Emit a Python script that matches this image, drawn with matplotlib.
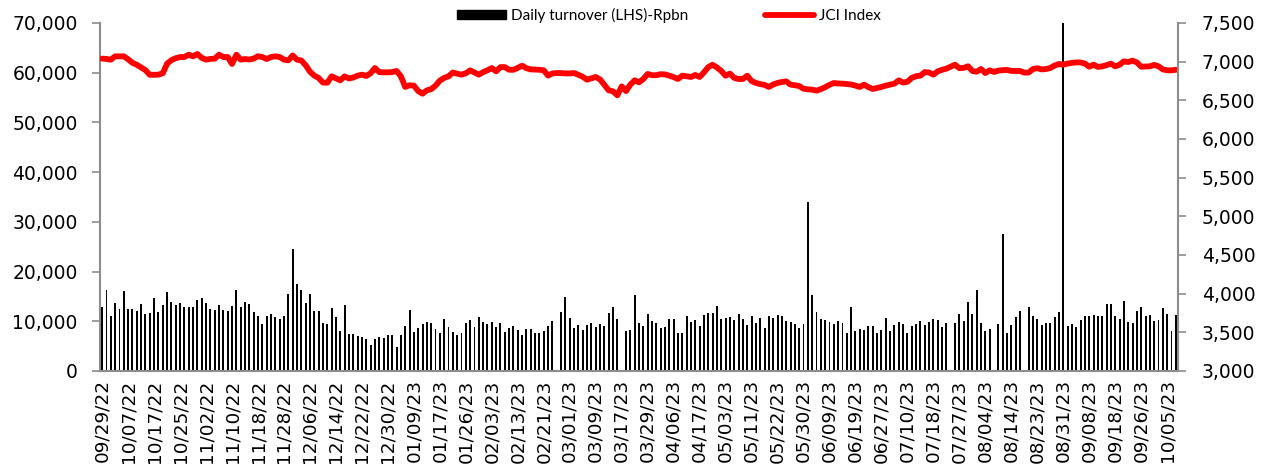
import numpy as np
import matplotlib
matplotlib.use("Agg")
import matplotlib.pyplot as plt
from matplotlib.patches import Patch
from matplotlib.lines import Line2D
from matplotlib.ticker import FuncFormatter, MultipleLocator

# Daily turnover in thousands of Rp bn (nan = no bar)
nan = np.nan
turnover_k = [
    12.9, 16.2, 11.0, 13.6, 12.5, 16.1, 12.4, 12.5, 12.0, 13.5,
    11.4, 11.6, 14.6, 11.8, 13.3, 15.9, 13.9, 13.3, 13.7, 12.9,
    12.9, 12.9, 14.3, 14.7, 13.7, 12.4, 12.3, 13.3, 12.3, 12.1,
    13.0, 16.2, 12.9, 13.9, 13.4, 11.9, 11.1, 9.4, 11.1, 11.5,
    10.9, 10.4,
    11.1, 15.5, 24.5, 17.5, 16.3, 13.7, 15.5, 12.1, 12.1, 9.6,
    9.4, 12.7, 10.9, 8.1, 13.3, 7.5, 7.4, 7.0, 6.9, 6.5,
    5.3, 6.4, 6.8, 6.6, 7.3, 7.3, 4.9, 7.2, 9.0, 12.3,
    7.9, 8.6, 9.5, 9.8, 9.6, 8.4, 7.6, 10.4, 8.8, 7.9,
    7.3,
    7.6, 9.7, 10.3, 8.9, 10.8, 9.9, 9.5, 9.9, 8.8, 9.6,
    7.9, 8.6, 9.0, 8.3, 7.3, 8.5, 8.4, 7.7, 7.7, 8.0,
    9.0, 10.1, nan, 11.8, 14.8, 10.6, 8.6, 9.2, 8.2, 9.3,
    9.7, 8.9, 9.5, 9.1, 11.7, 12.8, 10.5, nan, 8.0, 8.2,
    15.2, 9.7,
    9.0, 11.5, 10.1, 9.7, 8.6, 8.8, 10.4, 10.4, 7.7, 7.6,
    11.1, 9.8, 10.3, 9.1, 11.2, 11.6, 11.6, 13.1, 10.5, 10.7,
    10.9, 10.2, 11.5, 10.4, 9.3, 11.1, 9.6, 10.7, 8.6, 11.0,
    10.7, 11.3, 11.1, 10.0, 9.8, 9.4, 8.7, 9.4, 33.9, 15.2,
    11.9,
    10.5, 10.2, 9.9, 9.5, 10.1, 9.7, 7.7, 12.9, 8.0, 8.4,
    8.2, 9.1, 9.0, 7.7, 8.2, 10.6, 8.1, 9.2, 9.9, 9.5,
    7.7, 9.0, 9.4, 10.0, 9.2, 9.9, 10.5, 10.3, 8.9, 9.6,
    nan, 9.7, 11.5, 10.1, 13.9, 11.5, 16.3, 9.6, 8.1, 8.5,
    nan, 9.4,
    27.6, 7.6, 9.2, 10.8, 12.0, nan, 12.9, 11.0, 10.4, 9.2,
    9.6, 9.6, 10.8, 11.9, 70.0, 9.1, 9.5, 8.8, 10.3, 11.1,
    11.1, 11.3, 11.1, 11.1, 13.5, 13.5, 11.1, 10.4, 14.1, 9.9,
    9.7, 12.1, 12.9, 11.1, 11.2, 10.0, 10.3, 12.7, 11.4, 8.1,
    11.3,
]

jci = [
    7039, 7035, 7026, 7069, 7069, 7069, 7030, 6985, 6960, 6925,
    6890, 6830, 6830, 6832, 6850, 6974, 7020, 7045, 7060, 7060,
    7090, 7069, 7099, 7050, 7026, 7035, 7039, 7090, 7060, 7060,
    6970, 7090, 7026, 7034, 7028, 7040, 7070, 7060, 7034, 7060,
    7069, 7060,
    7026, 7017, 7080, 7026, 7015, 6955, 6870, 6820, 6789, 6730,
    6728, 6810, 6785, 6759, 6810, 6783, 6795, 6819, 6832, 6815,
    6850, 6918, 6865, 6862, 6862, 6866, 6880, 6810, 6673, 6695,
    6690, 6620, 6586, 6629, 6645, 6690, 6755, 6790, 6810, 6860,
    6845,
    6832, 6850, 6888, 6860, 6832, 6865, 6888, 6918, 6875, 6930,
    6930, 6895, 6895, 6920, 6948, 6915, 6900, 6897, 6895, 6888,
    6820, 6848, 6853, 6853, 6848, 6848, 6853, 6830, 6805, 6767,
    6785, 6802, 6770, 6700, 6630, 6617, 6565, 6680, 6620, 6703,
    6759, 6733,
    6776, 6841, 6825, 6825, 6838, 6835, 6819, 6800, 6776, 6819,
    6810, 6802, 6828, 6802, 6862, 6930, 6960, 6925, 6880, 6819,
    6845, 6790, 6776, 6776, 6819, 6750, 6725, 6710, 6700, 6673,
    6705, 6725, 6737, 6745, 6703, 6695, 6685, 6650, 6642, 6638,
    6625,
    6645, 6670, 6700, 6724, 6718, 6716, 6711, 6705, 6690, 6673,
    6703, 6670, 6647, 6660, 6673, 6690, 6703, 6716, 6759, 6730,
    6740, 6790, 6812, 6819, 6865, 6860, 6832, 6875, 6895, 6910,
    6935, 6961, 6915, 6920, 6940, 6880, 6870, 6905, 6853, 6888,
    6867, 6885,
    6890, 6893, 6880, 6880, 6880, 6858, 6860, 6905, 6915, 6900,
    6905, 6918, 6950, 6970, 6961, 6975, 6985, 6990, 6990, 6975,
    6935, 6961, 6932, 6940, 6955, 6974, 6940, 6960, 7004, 6995,
    7013, 6990, 6935, 6938, 6940, 6958, 6940, 6900, 6888, 6888,
    6895,
]

tick_labels = [
    "09/29/22", "10/07/22", "10/17/22", "10/25/22", "11/02/22", "11/10/22",
    "11/18/22", "11/28/22", "12/06/22", "12/14/22", "12/22/22", "12/30/22",
    "01/09/23", "01/17/23", "01/26/23", "02/03/23", "02/13/23", "02/21/23",
    "03/01/23", "03/09/23", "03/17/23", "03/29/23", "04/06/23", "04/17/23",
    "05/03/23", "05/11/23", "05/22/23", "05/30/23", "06/09/23", "06/19/23",
    "06/27/23", "07/10/23", "07/18/23", "07/27/23", "08/04/23", "08/14/23",
    "08/23/23", "08/31/23", "09/08/23", "09/18/23", "09/26/23", "10/05/23",
]
tick_step = 6

turnover = np.array(turnover_k, dtype=float) * 1000
n = len(turnover)
x = np.arange(n)

fig = plt.figure(figsize=(12.68, 4.72), dpi=100)
ax = fig.add_axes([100 / 1268, 1 - 371 / 472, (1178 - 100) / 1268, (371 - 23) / 472])
ax2 = ax.twinx()

ax.bar(x, np.nan_to_num(turnover), width=0.45, color="black", linewidth=0)
ax2.plot(x, jci, color="#ff0000", linewidth=4.2, solid_capstyle="round", solid_joinstyle="round")

ax.set_xlim(-0.5, n - 0.5)
ax.set_ylim(0, 70000)
ax2.set_ylim(3000, 7500)
ax.yaxis.set_major_locator(MultipleLocator(10000))
ax2.yaxis.set_major_locator(MultipleLocator(500))
fmt = FuncFormatter(lambda v, p: f"{int(v):,}")
ax.yaxis.set_major_formatter(fmt)
ax2.yaxis.set_major_formatter(fmt)

ax.set_xticks(np.arange(0, n, tick_step)[:len(tick_labels)])
ax.set_xticklabels(tick_labels, rotation=90, fontsize=13.3, family="DejaVu Sans")
ax.tick_params(axis="x", length=0, pad=6)
ax.tick_params(axis="y", labelsize=13.5, length=6, color="#8c8c8c", width=1.2, pad=10)
ax2.tick_params(axis="y", labelsize=13.5, length=6, color="#8c8c8c", width=1.2, pad=11)

for a in (ax, ax2):
    a.spines["top"].set_visible(False)
    for s in ("left", "right", "bottom"):
        a.spines[s].set_color("#8c8c8c")
        a.spines[s].set_linewidth(1.5)
ax.spines["right"].set_visible(False)
ax2.spines["left"].set_visible(False)
ax2.spines["bottom"].set_visible(False)

handles = [Patch(facecolor="black", edgecolor="black"),
           Line2D([0], [0], color="#ff0000", linewidth=4.2, solid_capstyle="round")]
leg = fig.legend(handles, ["Daily turnover (LHS)-Rpbn", "JCI Index"],
                 loc="center", bbox_to_anchor=(669 / 1268, 1 - 15 / 472), ncol=2, frameon=False,
                 prop={"family": "Lato", "size": 11}, handlelength=3.2, handleheight=0.55,
                 handletextpad=0.35, columnspacing=5.0, borderaxespad=0)

fig.savefig("out.png", dpi=100)
